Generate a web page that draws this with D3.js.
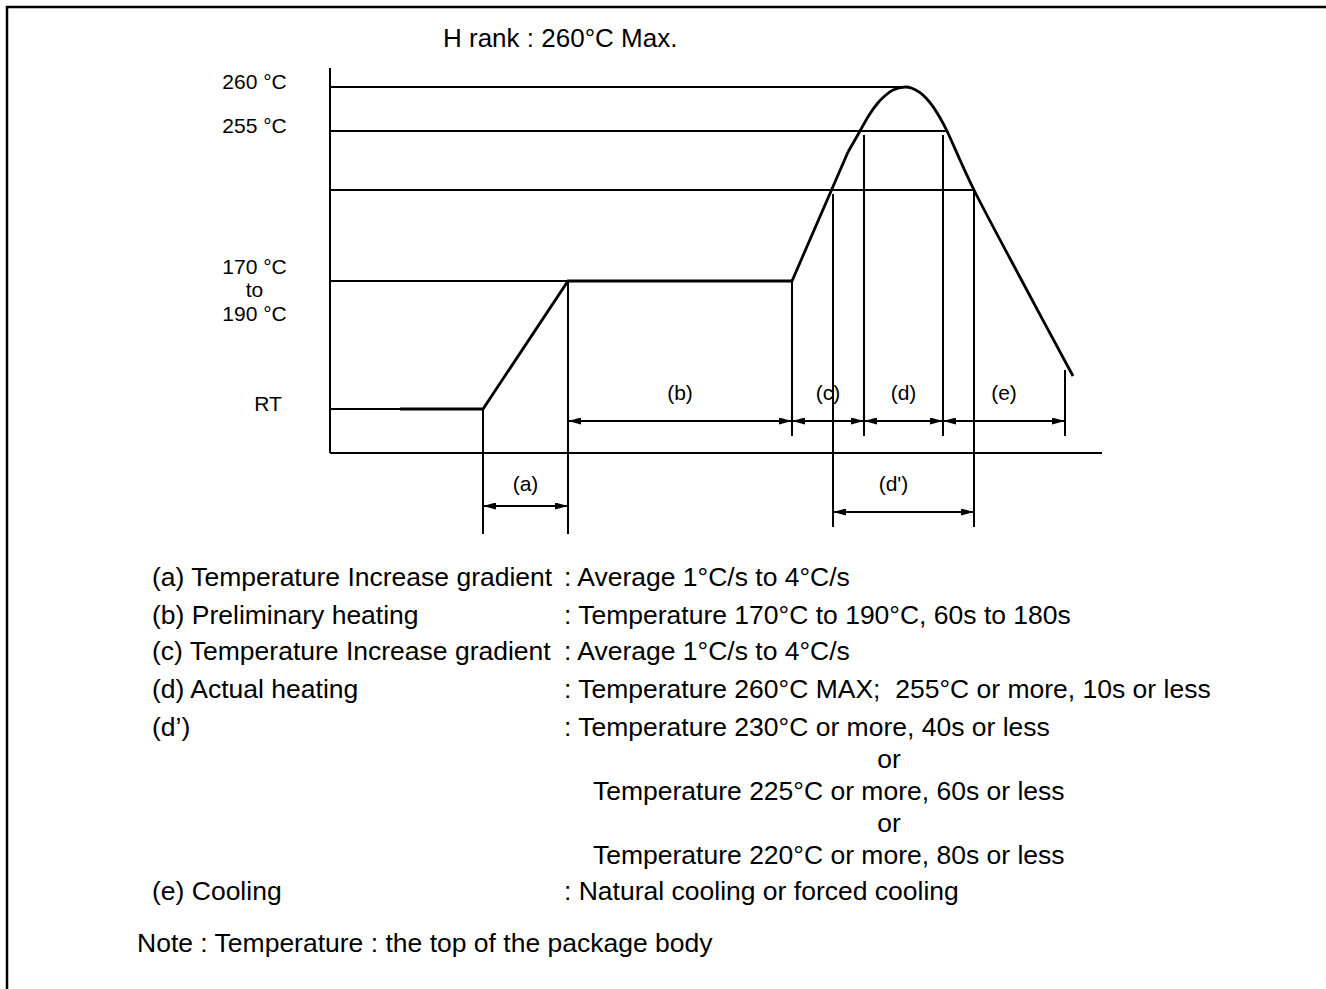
<!DOCTYPE html>
<html>
<head>
<meta charset="utf-8">
<script src="https://cdn.jsdelivr.net/npm/d3@7/dist/d3.min.js"></script>
<style>
  body { margin: 0; background: #fff; }
  svg { display: block; font-family: "Liberation Sans", Arial, sans-serif; }
  .thin { stroke: #000; stroke-width: 1.3; fill: none; shape-rendering: crispEdges; }
  .profile { stroke: #000; stroke-width: 2.8; fill: none; }
  text { fill: #000; white-space: pre; }
</style>
</head>
<body>
<div id="chart"></div>
<script>
// Temperature levels on the vertical axis (°C); 25 = RT, 180 = the 170-190 band
var LEVELS = [25, 180, 230, 255, 260];
var LEVEL_LABELS = [["RT"], ["170 °C", "to", "190 °C"], [], ["255 °C"], ["260 °C"]];
// time (schematic s) where each level line meets the profile
var LEVEL_END_T = [35, 119, 322, 308.5, 287.5];

// profile: straight part (RT, ramp, preheat, start of rise)
var RAMP_T = [35, 76.5, 119, 231, 259];
var RAMP_C = [25, 25, 180, 180, 246.1];
// profile: peak and cooling
var PEAK_T = [259, 265, 269.5, 273.5, 277.5, 281.5, 287.5, 291, 295, 298, 301.5, 305, 308.5, 315, 322, 346, 371.5];
var PEAK_C = [246.1, 255, 256.8, 258.07, 259.0, 259.66, 260, 259.86, 259.36, 258.75, 257.77, 256.5, 255, 242.7, 230, 180, 65];

// vertical guide lines: time and the temperature they start from
var GUIDE_T = [76.5, 119, 231, 251.5, 267, 306.5, 322, 367.5];
var GUIDE_TOP_C = [25, 180, 180, 228, 253.3, 253.3, 230, 72];

// dimension arrows
var SPAN_LABELS = ["(a)", "(b)", "(c)", "(d)", "(e)", "(d')"];
var SPAN_FROM = [76.5, 119, 231, 267, 306.5, 251.5];
var SPAN_TO = [119, 231, 267, 306.5, 367.5, 322];
var SPAN_ROW = [1, 0, 0, 0, 0, 2];

// legend
var LEGEND_KEYS = [
  "(a) Temperature Increase gradient",
  "(b) Preliminary heating",
  "(c) Temperature Increase gradient",
  "(d) Actual heating",
  "(d\u2019)",
  "", "", "", "",
  "(e) Cooling"
];
var LEGEND_VALUES = [
  ": Average 1°C/s to 4°C/s",
  ": Temperature 170°C to 190°C, 60s to 180s",
  ": Average 1°C/s to 4°C/s",
  ": Temperature 260°C MAX;  255°C or more, 10s or less",
  ": Temperature 230°C or more, 40s or less",
  "or",
  "Temperature 225°C or more, 60s or less",
  "or",
  "Temperature 220°C or more, 80s or less",
  ": Natural cooling or forced cooling"
];
var TITLE = "H rank : 260°C Max.";
var NOTE = "Note : Temperature : the top of the package body";

var render = function() {
  var width = 1326;
  var height = 989;
  var axisX = 330;
  var baseY = 453;
  var topY = 68;

  var svg = d3.select("#chart")
    .append("svg")
    .attr("width", width)
    .attr("height", height);

  var defs = svg.append("defs");
  defs.append("marker")
    .attr("id", "arrow")
    .attr("viewBox", "0 0 13 7")
    .attr("refX", 13)
    .attr("refY", 3.5)
    .attr("markerWidth", 13)
    .attr("markerHeight", 7)
    .attr("markerUnits", "userSpaceOnUse")
    .attr("orient", "auto-start-reverse")
    .append("path")
    .attr("d", "M0,0L13,3.5L0,7Z")
    .attr("fill", "#000");

  // frame
  svg.append("path")
    .attr("d", `M7,${height}V7H${width}`)
    .attr("fill", "none")
    .attr("stroke", "#000")
    .attr("stroke-width", 2.5);

  svg.append("text")
    .attr("x", 443)
    .attr("y", 47)
    .attr("font-size", 26)
    .text(TITLE);

  var xScale = d3.scaleLinear()
    .domain([0, 386])
    .range([axisX, 1102]);

  var yScale = d3.scaleLinear()
    .domain(LEVELS)
    .range([409, 281, 190, 131, 87]);

  var chart = svg.append("g");

  // axes
  chart.append("line")
    .attr("class", "thin")
    .attr("x1", axisX).attr("x2", axisX)
    .attr("y1", topY).attr("y2", baseY);
  chart.append("line")
    .attr("class", "thin")
    .attr("x1", axisX).attr("x2", xScale.range()[1])
    .attr("y1", baseY).attr("y2", baseY);

  // level lines
  chart.append("g")
    .selectAll("line")
    .data(LEVELS)
    .enter()
    .append("line")
    .attr("class", "thin")
    .attr("x1", axisX)
    .attr("x2", (d, i) => xScale(LEVEL_END_T[i]))
    .attr("y1", d => yScale(d))
    .attr("y2", d => yScale(d));

  // level labels
  var labelOffsets = [[2], [-7, 16, 40]];
  LEVELS.forEach(function(level, i) {
    var lines = LEVEL_LABELS[i];
    lines.forEach(function(txt, j) {
      var offs = lines.length > 1 ? labelOffsets[1][j] : labelOffsets[0][0];
      chart.append("text")
        .attr("x", txt == "RT" ? axisX - 62 : axisX - 75.5)
        .attr("y", yScale(level) + offs)
        .attr("text-anchor", "middle")
        .attr("font-size", 21)
        .text(txt);
    });
  });

  // rows for the dimension arrows
  var rowArrowY = [baseY - 32, baseY + 53, baseY + 59];
  var rowLabelY = [baseY - 53, baseY + 38, baseY + 38];
  var rowExt = [15, 28, 15];

  // guide lines
  var guideBottom = GUIDE_T.map(function(t) {
    var b = 0;
    SPAN_FROM.forEach(function(f, i) {
      if (f == t || SPAN_TO[i] == t) {
        b = Math.max(b, rowArrowY[SPAN_ROW[i]] + rowExt[SPAN_ROW[i]]);
      }
    });
    return b;
  });

  chart.append("g")
    .selectAll("line")
    .data(GUIDE_T)
    .enter()
    .append("line")
    .attr("class", "thin")
    .attr("x1", d => xScale(d))
    .attr("x2", d => xScale(d))
    .attr("y1", (d, i) => yScale(GUIDE_TOP_C[i]))
    .attr("y2", (d, i) => guideBottom[i]);

  // profile
  var ramp = RAMP_T.map((t, i) => [t, RAMP_C[i]]);
  var peak = PEAK_T.map((t, i) => [t, PEAK_C[i]]);

  chart.append("path")
    .attr("class", "profile")
    .attr("d", d3.line()
      .x(d => xScale(d[0]))
      .y(d => yScale(d[1]))(ramp));

  chart.append("path")
    .attr("class", "profile")
    .attr("d", d3.line()
      .x(d => xScale(d[0]))
      .y(d => yScale(d[1]))
      .curve(d3.curveCatmullRom.alpha(0.5))(peak));

  // dimension arrows
  var spans = chart.append("g");
  SPAN_LABELS.forEach(function(label, i) {
    var row = SPAN_ROW[i];
    spans.append("line")
      .attr("x1", xScale(SPAN_FROM[i]))
      .attr("x2", xScale(SPAN_TO[i]))
      .attr("y1", rowArrowY[row])
      .attr("y2", rowArrowY[row])
      .attr("stroke", "#000")
      .attr("stroke-width", 1.3)
      .attr("shape-rendering", "crispEdges")
      .attr("marker-start", "url(#arrow)")
      .attr("marker-end", "url(#arrow)");
    spans.append("text")
      .attr("x", (xScale(SPAN_FROM[i]) + xScale(SPAN_TO[i])) / 2)
      .attr("dx", label == "(d')" ? -10 : 0)
      .attr("y", rowLabelY[row])
      .attr("text-anchor", "middle")
      .attr("font-size", 21)
      .text(label);
  });

  // legend
  var rowY = [586, 624, 660, 698, 736, 768, 800, 832, 864, 900];
  var legend = svg.append("g").attr("font-size", 26.5);
  LEGEND_KEYS.forEach(function(key, i) {
    if (key) {
      legend.append("text")
        .attr("x", 152)
        .attr("y", rowY[i])
        .text(key);
    }
    var val = LEGEND_VALUES[i];
    var t = legend.append("text")
      .attr("y", rowY[i])
      .text(val);
    if (val.charAt(0) == ":") {
      t.attr("x", 564);
    } else if (val == "or") {
      t.attr("x", 889).attr("text-anchor", "middle");
    } else {
      t.attr("x", 593);
    }
  });

  legend.append("text")
    .attr("x", 137)
    .attr("y", 952)
    .text(NOTE);
};

window.onload = render;
</script>
</body>
</html>
